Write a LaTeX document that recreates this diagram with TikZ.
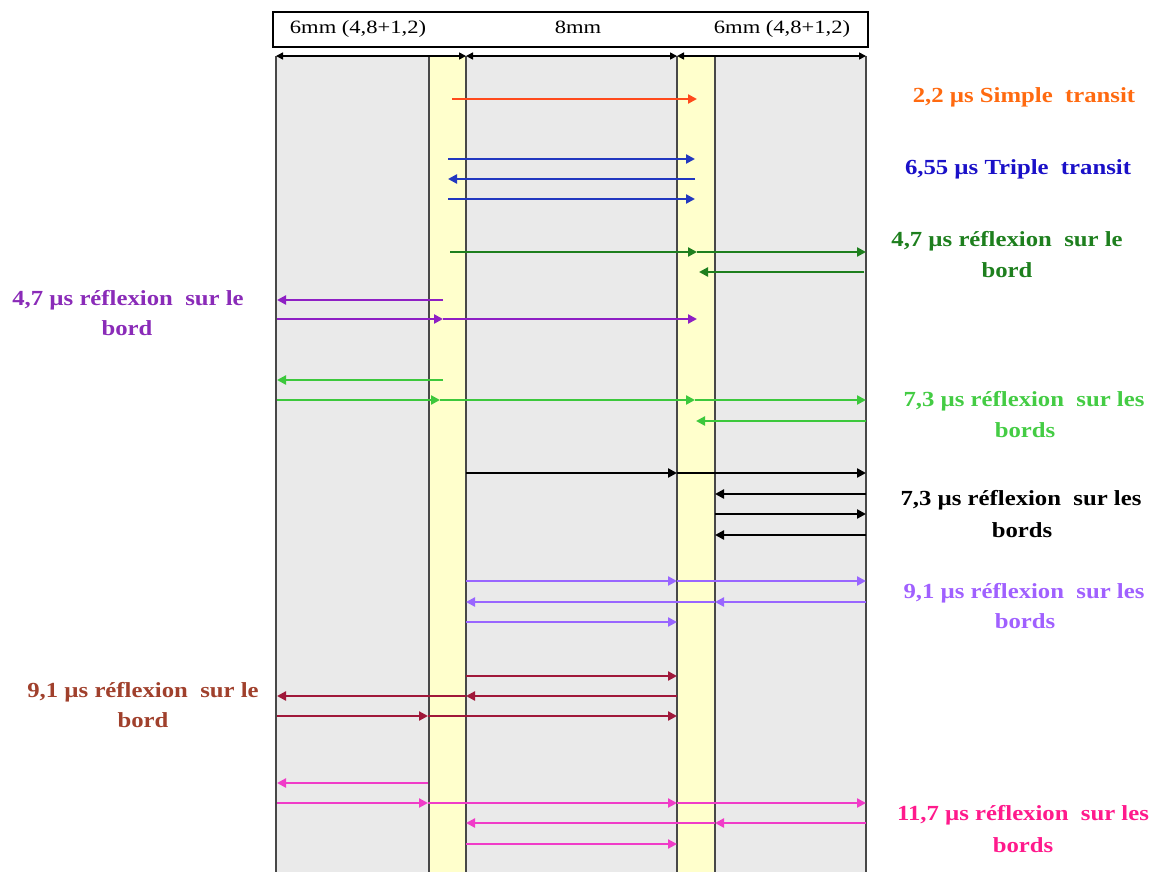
\documentclass[tikz,border=0pt]{standalone}
\usepackage{fontspec}
\setmainfont{Liberation Serif}
\usepackage{graphicx}
\usetikzlibrary{arrows.meta}
\definecolor{bggray}{HTML}{EAEAEA}
\definecolor{ylw}{HTML}{FFFFCC}
\definecolor{vgray}{HTML}{484848}
\definecolor{corange}{HTML}{FF4A1C}
\definecolor{lorange}{HTML}{FF6A10}
\definecolor{cblue}{HTML}{2238C0}
\definecolor{lblue}{HTML}{1A10C8}
\definecolor{cdgreen}{HTML}{1E7F1E}
\definecolor{cpurple}{HTML}{8E1FC4}
\definecolor{lpurple}{HTML}{8A2BB8}
\definecolor{clgreen}{HTML}{3CC83C}
\definecolor{llgreen}{HTML}{44CC44}
\definecolor{cviolet}{HTML}{9966FF}
\definecolor{lviolet}{HTML}{A060FF}
\definecolor{cmaroon}{HTML}{A0183A}
\definecolor{lbrown}{HTML}{A0402C}
\definecolor{cpink}{HTML}{F03CC8}
\definecolor{lpink}{HTML}{FF1A8C}
\newcommand{\sx}[1]{\scalebox{1.15}[1]{#1}}
\newcommand{\hx}[1]{\scalebox{1.2}[1]{#1}}
\begin{document}
\begin{tikzpicture}[x=1pt,y=-1pt,
  ray/.style={line width=2.8pt,-{Triangle[length=9pt,width=9pt]}},
  dim/.style={line width=1.6pt,{Triangle[length=7pt,width=7pt]}-{Triangle[length=7pt,width=7pt]}},
  vline/.style={line width=2.5pt,vgray},
  lab/.style={font=\fontsize{21.5}{31}\selectfont\bfseries,anchor=base,inner sep=0pt},
  hdr/.style={font=\fontsize{18.8}{22}\selectfont,anchor=base,inner sep=0pt}]
\useasboundingbox (0,0) rectangle (1156,872);
% background strips
\fill[bggray] (276,56) rectangle (866,872);
\fill[ylw] (429,56) rectangle (466,872);
\fill[ylw] (677,56) rectangle (715,872);
\foreach \x in {276,429,466,677,715,866} \draw[vline] (\x,56) -- (\x,872);
% header
\draw[line width=1.3pt] (273,12) rectangle (868,47);
\node[hdr] (h1) at (358,34) {\hx{6mm (4,8+1,2)}};
\node[hdr] (h2) at (578,34) {\hx{8mm}};
\node[hdr] (h3) at (782,34) {\hx{6mm (4,8+1,2)}};
\coordinate (d0) at (276,56);
\coordinate (d1) at (466,56);
\coordinate (d2) at (677,56);
\coordinate (d3) at (866,56);
\draw[dim] (d0) -- (d1);
\draw[dim] (d1) -- (d2);
\draw[dim] (d2) -- (d3);
% orange
\draw[ray,corange] (452,99) -- (697,99);
% blue
\draw[ray,cblue] (448,159) -- (695,159);
\draw[ray,cblue] (695,179) -- (448,179);
\draw[ray,cblue] (448,199) -- (695,199);
% dark green
\draw[ray,cdgreen] (450,252) -- (697,252);
\draw[ray,cdgreen] (697,252) -- (866,252);
\draw[ray,cdgreen] (864,272) -- (699,272);
% purple
\draw[ray,cpurple] (443,300) -- (277,300);
\draw[ray,cpurple] (277,319) -- (443,319);
\draw[ray,cpurple] (443,319) -- (697,319);
% light green
\draw[ray,clgreen] (443,380) -- (277,380);
\draw[ray,clgreen] (277,400) -- (440,400);
\draw[ray,clgreen] (440,400) -- (695,400);
\draw[ray,clgreen] (695,400) -- (866,400);
\draw[ray,clgreen] (866,421) -- (696,421);
% black
\draw[ray,black] (466,473) -- (677,473);
\draw[ray,black] (677,473) -- (866,473);
\draw[ray,black] (866,494) -- (715,494);
\draw[ray,black] (715,514) -- (866,514);
\draw[ray,black] (866,535) -- (715,535);
% violet
\draw[ray,cviolet] (466,581) -- (677,581);
\draw[ray,cviolet] (677,581) -- (866,581);
\draw[ray,cviolet] (866,602) -- (715,602);
\draw[ray,cviolet] (715,602) -- (466,602);
\draw[ray,cviolet] (466,622) -- (677,622);
% maroon
\draw[ray,cmaroon] (466,676) -- (677,676);
\draw[ray,cmaroon] (677,696) -- (466,696);
\draw[ray,cmaroon] (466,696) -- (277,696);
\draw[ray,cmaroon] (277,716) -- (428,716);
\draw[ray,cmaroon] (428,716) -- (677,716);
% pink
\draw[ray,cpink] (428,783) -- (277,783);
\draw[ray,cpink] (277,803) -- (428,803);
\draw[ray,cpink] (428,803) -- (677,803);
\draw[ray,cpink] (677,803) -- (866,803);
\draw[ray,cpink] (866,823) -- (715,823);
\draw[ray,cpink] (715,823) -- (466,823);
\draw[ray,cpink] (466,844) -- (677,844);
% labels
\node[lab,lorange] (t1) at (1024,103) {\sx{2,2 µs Simple\ \ transit}};
\node[lab,lblue] (t2) at (1018,174) {\sx{6,55 µs Triple\ \ transit}};
\node[lab,cdgreen] (t3a) at (1007,246) {\sx{4,7 µs réflexion\ \ sur le}};
\node[lab,cdgreen] (t3b) at (1007,277) {\sx{bord}};
\node[lab,lpurple] (t4a) at (128,305) {\sx{4,7 µs réflexion\ \ sur le}};
\node[lab,lpurple] (t4b) at (127,335) {\sx{bord}};
\node[lab,llgreen] (t5a) at (1024,406) {\sx{7,3 µs réflexion\ \ sur les}};
\node[lab,llgreen] (t5b) at (1025,437) {\sx{bords}};
\node[lab,black] (t6a) at (1021,505) {\sx{7,3 µs réflexion\ \ sur les}};
\node[lab,black] (t6b) at (1022,537) {\sx{bords}};
\node[lab,lviolet] (t7a) at (1024,598) {\sx{9,1 µs réflexion\ \ sur les}};
\node[lab,lviolet] (t7b) at (1025,628) {\sx{bords}};
\node[lab,lbrown] (t8a) at (143,697) {\sx{9,1 µs réflexion\ \ sur le}};
\node[lab,lbrown] (t8b) at (143,727) {\sx{bord}};
\node[lab,lpink] (t9a) at (1023,820) {\sx{11,7 µs réflexion\ \ sur les}};
\node[lab,lpink] (t9b) at (1023,852) {\sx{bords}};
\end{tikzpicture}
\end{document}
